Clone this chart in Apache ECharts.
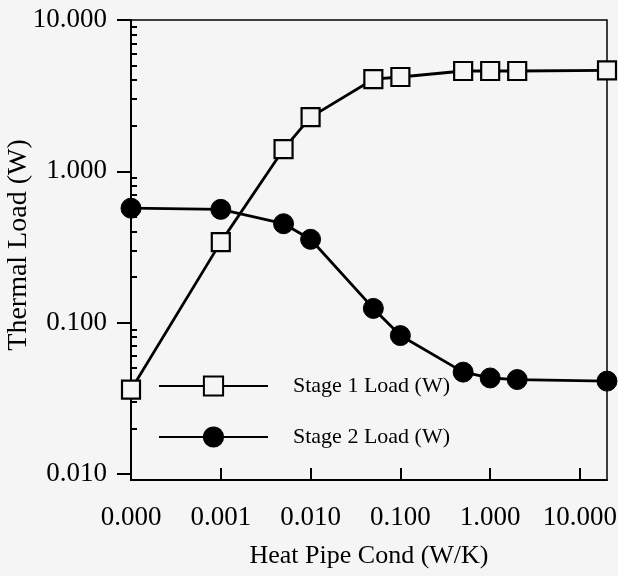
<!DOCTYPE html>
<html>
<head>
<meta charset="utf-8">
<script src="https://cdn.jsdelivr.net/npm/echarts@6/dist/echarts.min.js"></script>
<style>
html, body { margin: 0; background: #f5f5f5; }
#main { width: 618px; height: 576px; }
</style>
</head>
<body>
<div id="main"></div>
<script>
// heat pipe conductance (W/K); the "0.000" point sits at the left edge
var condValues = [0.0001, 0.001, 0.005, 0.01, 0.05, 0.1, 0.5, 1, 2, 20];
var stage1Load = [0.036, 0.34, 1.40, 2.28, 4.06, 4.2, 4.6, 4.6, 4.6, 4.65];
var stage2Load = [0.57, 0.56, 0.45, 0.355, 0.124, 0.082, 0.047, 0.043, 0.042, 0.041];

var xTicks = [0.0001, 0.001, 0.01, 0.1, 1, 10];
var yTicks = [0.01, 0.1, 1, 10];
var yMinorTicks = [0.02, 0.03, 0.04, 0.05, 0.06, 0.07, 0.08, 0.09,
                   0.2, 0.3, 0.4, 0.5, 0.6, 0.7, 0.8, 0.9,
                   2, 3, 4, 5, 6, 7, 8, 9];

var font = 'Liberation Serif';
var bg = '#f5f5f5';

function pairs(ys) {
    return condValues.map(function (x, i) { return [x, ys[i]]; });
}
function fmt(v) {
    return Number(v).toFixed(3);
}

var myChart = echarts.init(document.getElementById('main'));
myChart.setOption({
    backgroundColor: bg,
    animation: false,
    grid: {
        left: 131, right: 11, top: 20, bottom: 96,
        outerBoundsMode: 'none',
        containLabel: false,
        show: true, borderColor: '#000', borderWidth: 1.5
    },
    legend: {
        orient: 'vertical',
        left: 153,
        top: 370,
        itemWidth: 109,
        itemHeight: 24,
        itemGap: 29,
        textStyle: { fontFamily: font, fontSize: 22, color: '#000', padding: [0, 0, 0, 20] },
        data: ['Stage 1 Load (W)', 'Stage 2 Load (W)']
    },
    xAxis: {
        type: 'log',
        min: 0.0001,
        max: 20,
        name: 'Heat Pipe Cond (W/K)',
        nameLocation: 'middle',
        nameGap: 63,
        nameMoveOverlap: false,
        nameTextStyle: { fontFamily: font, fontSize: 26, color: '#000' },
        axisLine: { lineStyle: { color: '#000', width: 2 } },
        axisTick: { inside: true, length: 12, customValues: xTicks, lineStyle: { color: '#000', width: 2 } },
        axisLabel: { customValues: xTicks, formatter: fmt, margin: 24, fontFamily: font, fontSize: 27, color: '#000' },
        splitLine: { show: false }
    },
    yAxis: [{
        type: 'log',
        min: 0.0091,
        max: 10,
        // leading spacer nudges the title up a little, as in the original
        name: '{s| }{t|Thermal Load (W)}',
        nameLocation: 'middle',
        nameGap: 98,
        nameMoveOverlap: false,
        nameTextStyle: {
            fontFamily: font, fontSize: 28, color: '#000',
            rich: {
                s: { width: 10 },
                t: { fontFamily: font, fontSize: 28, color: '#000' }
            }
        },
        axisLine: { lineStyle: { color: '#000', width: 2 } },
        axisTick: { length: 14, customValues: yTicks, lineStyle: { color: '#000', width: 2 } },
        axisLabel: { customValues: yTicks, formatter: fmt, margin: 24, fontFamily: font, fontSize: 27, color: '#000' },
        splitLine: { show: false }
    }, {
        type: 'log',
        min: 0.0091,
        max: 10,
        position: 'left',
        axisLine: { show: false },
        axisTick: { inside: true, length: 6, customValues: yMinorTicks, lineStyle: { color: '#000', width: 2 } },
        axisLabel: { show: false },
        splitLine: { show: false }
    }],
    series: [{
        name: 'Stage 1 Load (W)',
        type: 'line',
        data: pairs(stage1Load),
        symbol: 'rect',
        symbolSize: 18,
        clip: false,
        lineStyle: { color: '#000', width: 2.8 },
        itemStyle: { color: bg, borderColor: '#000', borderWidth: 2.2 }
    }, {
        name: 'Stage 2 Load (W)',
        type: 'line',
        data: pairs(stage2Load),
        symbol: 'circle',
        symbolSize: 20,
        clip: false,
        lineStyle: { color: '#000', width: 2.8 },
        itemStyle: { color: '#000', borderColor: '#000', borderWidth: 1 }
    }]
});
</script>
</body>
</html>
